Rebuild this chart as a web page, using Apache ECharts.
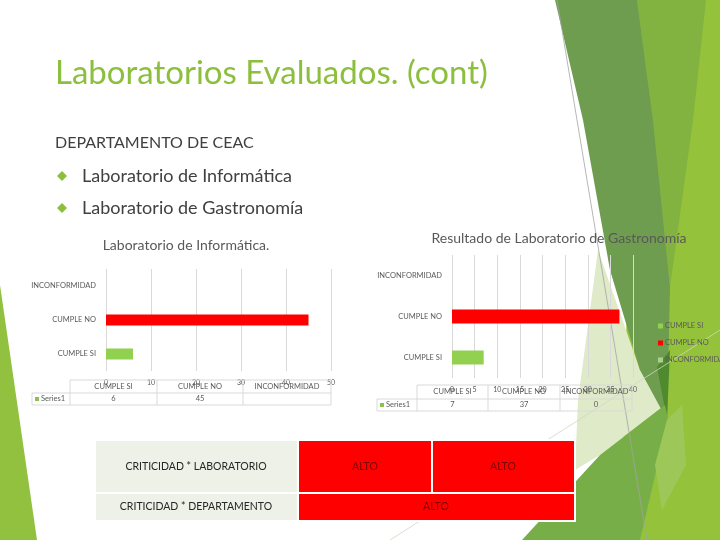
<!DOCTYPE html>
<html lang="es">
<head>
<meta charset="UTF-8">
<title>Laboratorios Evaluados. (cont)</title>
<script src="https://cdn.jsdelivr.net/npm/echarts@6/dist/echarts.min.js"></script>
<style>
  html, body { margin: 0; padding: 0; background: #fff; }
  #chart { width: 720px; height: 540px; }
</style>
</head>
<body>
<div id="chart"></div>
<script>
// datos de las dos gráficas
var categories = ['CUMPLE SI', 'CUMPLE NO', 'INCONFORMIDAD'];
var infoValues = [6, 45, null];      // Laboratorio de Informática
var gasValues = [7, 37, 0];          // Laboratorio de Gastronomía
var seriesName = 'Series1';
var barColors = ['#92d050', '#ff0000', '#a9d08e'];
var bullets = ['Laboratorio de Informática', 'Laboratorio de Gastronomía'];
var critRows = ['CRITICIDAD * LABORATORIO', 'CRITICIDAD * DEPARTAMENTO'];
var critLab = ['ALTO', 'ALTO'];
var critDep = 'ALTO';

var FONT = 'Lato';
var gray = '#595959';
var lineGray = '#d9d9d9';

var chart = echarts.init(document.getElementById('chart'));

// adornos de la plantilla (fondo)
function poly(points, color) {
  return { type: 'polygon', z: -10, silent: true, shape: { points: points }, style: { fill: color } };
}
function seg(x1, y1, x2, y2, color, w) {
  return { type: 'line', z: -9, silent: true, shape: { x1: x1, y1: y1, x2: x2, y2: y2 },
    style: { stroke: color, lineWidth: w } };
}
function txt(x, y, text, size, color, align) {
  return { type: 'text', x: x, y: y, style: { text: text, fontSize: size, fontFamily: FONT,
    fill: color, align: align || 'left', verticalAlign: 'middle' } };
}

var decor = [
  poly([[0, 285], [37, 540], [0, 540]], '#91c13f'),
  poly([[636, 0], [720, 0], [720, 540], [620, 540]], '#95c23b'),
  poly([[637, 0], [706, 0], [693, 120], [670, 287], [653, 120]], '#82b23f'),
  poly([[598, 250], [640, 370], [665, 405], [600, 455], [575, 470], [578, 400]], '#dfeac8'),
  poly([[555, 0], [637, 0], [653, 120], [670, 287], [667, 420], [640, 370], [610, 270], [583, 120]], '#6e9d4f'),
  poly([[657, 367], [670, 350], [667, 420]], '#4f8a2f'),
  poly([[522, 540], [600, 455], [665, 405], [668, 420], [640, 540]], '#78ae48'),
  poly([[667, 420], [682, 405], [686, 465], [662, 510], [655, 465]], '#9dc859'),
  seg(557, 0, 647, 540, '#a3a3a3', 0.8),
  seg(390, 540, 720, 330, '#cfd8c0', 0.8)
];

// textos de la diapositiva
var slide = [
  txt(55, 73, 'Laboratorios Evaluados. (cont)', 33, '#8dbf3f'),
  txt(55, 143, 'DEPARTAMENTO DE CEAC', 16, '#404040')
];
bullets.forEach(function (b, i) {
  var y = 176 + i * 32;
  slide.push({ type: 'polygon', shape: { points: [[62, y - 5], [67, y], [62, y + 5], [57, y]] },
    style: { fill: '#8dbf3f' } });
  slide.push(txt(82, y, b, 18, '#404040'));
});
slide.push(txt(186, 245, 'Laboratorio de Informática.', 14, gray, 'center'));
slide.push(txt(559, 238, 'Resultado de Laboratorio de Gastronomía', 14, gray, 'center'));

// tabla de datos bajo cada gráfica
function dataTable(keyX, cols, rows, values, color) {
  var els = [];
  var last = cols[cols.length - 1];
  els.push(seg(cols[0], rows[0], last, rows[0], lineGray, 1));
  els.push(seg(keyX, rows[1], last, rows[1], lineGray, 1));
  els.push(seg(keyX, rows[2], last, rows[2], lineGray, 1));
  els.push(seg(keyX, rows[1], keyX, rows[2], lineGray, 1));
  cols.forEach(function (c) { els.push(seg(c, rows[0], c, rows[2], lineGray, 1)); });
  var hy = (rows[0] + rows[1]) / 2, vy = (rows[1] + rows[2]) / 2;
  categories.forEach(function (cat, i) {
    var cx = (cols[i] + cols[i + 1]) / 2;
    els.push(txt(cx, hy, cat, 7.5, gray, 'center'));
    var v = values[i];
    els.push(txt(cx, vy, v === null ? '' : String(v), 7.5, gray, 'center'));
  });
  els.push({ type: 'rect', shape: { x: keyX + 3, y: vy - 2, width: 4, height: 4 }, style: { fill: color } });
  els.push(txt(keyX + 9, vy, seriesName, 7.5, gray));
  els.forEach(function (e) { e.z = 5; });
  return els;
}
var tables = dataTable(32, [70, 157, 243, 331], [380, 393, 405], infoValues, '#8fbf4f')
  .concat(dataTable(377, [417, 488, 560, 632], [385, 399, 411], gasValues, '#8fbf4f'));

// tabla de criticidad
function cell(x, y, w, h, fill) {
  return { type: 'rect', z: 5, shape: { x: x, y: y, width: w, height: h },
    style: { fill: fill, stroke: '#fff', lineWidth: 2 } };
}
var crit = [
  cell(95, 440, 203, 53, '#edf1e8'),
  cell(95, 493, 203, 28, '#edf1e8'),
  cell(298, 440, 134, 53, '#ff0000'),
  cell(432, 440, 143, 53, '#ff0000'),
  cell(298, 493, 277, 28, '#ff0000')
];
crit.push(txt(196, 467, critRows[0], 10.5, '#262626', 'center'));
crit.push(txt(196, 507, critRows[1], 10.5, '#262626', 'center'));
crit.push(txt(365, 467, critLab[0], 10.5, '#7a0000', 'center'));
crit.push(txt(503, 467, critLab[1], 10.5, '#7a0000', 'center'));
crit.push(txt(436, 507, critDep, 10.5, '#7a0000', 'center'));
crit.forEach(function (e) { e.z = 6; });

function valueAxis(grid, max, interval) {
  return {
    type: 'value', gridIndex: grid, min: 0, max: max, interval: interval,
    axisLine: { show: false }, axisTick: { show: false },
    axisLabel: { fontSize: 7, color: gray, fontFamily: FONT, margin: 8 },
    splitLine: { lineStyle: { color: lineGray, width: 1 } }
  };
}
function catAxis(grid) {
  return {
    type: 'category', gridIndex: grid, data: categories,
    axisLine: { show: false }, axisTick: { show: false },
    axisLabel: { fontSize: 7.5, color: gray, fontFamily: FONT, margin: 10 }
  };
}

var gasSeries = categories.map(function (cat, i) {
  return {
    name: cat, type: 'bar', xAxisIndex: 1, yAxisIndex: 1, stack: 'gas', barWidth: 14,
    itemStyle: { color: barColors[i] },
    data: gasValues.map(function (v, j) { return j === i ? v : '-'; })
  };
});

option = {
  animation: false,
  textStyle: { fontFamily: FONT },
  grid: [
    { left: 106, top: 269, width: 225, height: 102 },
    { left: 452, top: 255, width: 181, height: 123 }
  ],
  xAxis: [valueAxis(0, 50, 10), valueAxis(1, 40, 5)],
  yAxis: [catAxis(0), catAxis(1)],
  legend: {
    data: categories, orient: 'vertical', left: 653, top: 316,
    itemWidth: 5, itemHeight: 5, itemGap: 7, icon: 'rect',
    textStyle: { fontSize: 7.5, color: gray, fontFamily: FONT, lineHeight: 10, padding: [0, 0, 0, -3] }
  },
  series: [
    {
      name: seriesName, type: 'bar', xAxisIndex: 0, yAxisIndex: 0, barWidth: 11,
      data: infoValues.map(function (v, i) {
        return { value: v === null ? '-' : v, itemStyle: { color: barColors[i] } };
      })
    }
  ].concat(gasSeries),
  graphic: decor.concat(slide, tables, crit)
};

chart.setOption(option);
</script>
</body>
</html>
